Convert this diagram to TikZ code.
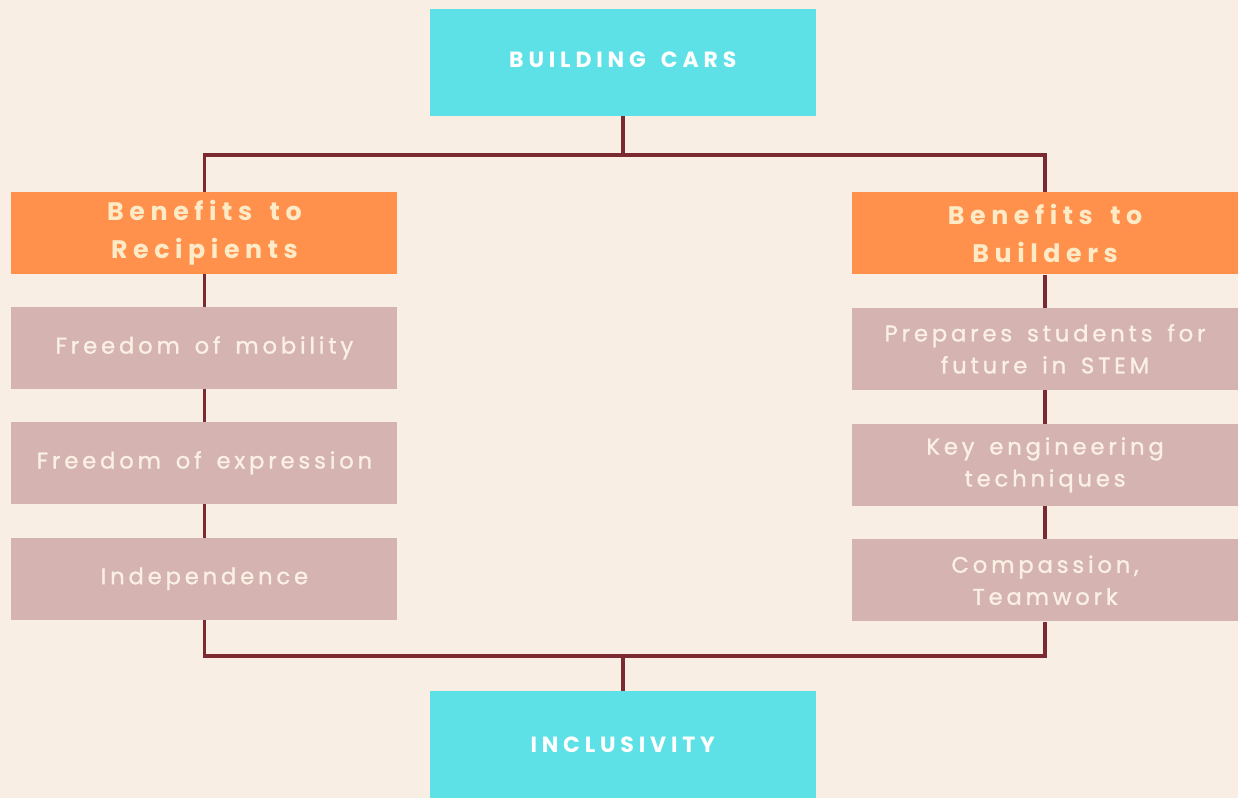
\documentclass[tikz,border=0pt]{standalone}
\usepackage{fontspec}
\newfontfamily\popfont{Poppins}[LetterSpace=17,WordSpace=1.5,FakeBold=1.2]
\newfontfamily\popwide{Poppins}[LetterSpace=22,WordSpace=1.6]
\definecolor{bgcream}{RGB}{248,238,227}
\definecolor{boxcyan}{RGB}{93,225,230}
\definecolor{boxorange}{RGB}{255,145,77}
\definecolor{boxpink}{RGB}{213,179,176}
\definecolor{linkred}{RGB}{122,42,48}
\definecolor{txtcream}{RGB}{250,240,228}
\definecolor{txtyellow}{RGB}{253,235,200}

\begin{document}
\begin{tikzpicture}[x=0.75pt,y=0.75pt,yscale=-1,xscale=1,
  endbox/.style={fill=boxcyan, inner sep=0pt, minimum width=289.5pt, minimum height=80.25pt,
    text=white, font=\popwide\bfseries\fontsize{16.5}{20}\selectfont},
  headbox/.style={fill=boxorange, inner sep=0pt, minimum width=289.5pt, minimum height=61.5pt,
    align=center, text=txtyellow, font=\popwide\bfseries\fontsize{19}{28.5}\selectfont},
  itembox/.style={fill=boxpink, inner sep=0pt, minimum width=289.5pt, minimum height=61.5pt,
    align=center, text=txtcream, font=\popfont\fontsize{17}{24}\selectfont},
  link/.style={draw=linkred, line width=2.7pt}]
	\fill [bgcream] (0,0) rectangle (1238,798);
	\node [endbox] (cars) at (623,62.5) {\raisebox{3.5pt}{BUILDING CARS}};
	\node [headbox] (recip) at (204.5,233) {Benefits to\\Recipients};
	\node [itembox] (mobil) at (204.5,348) {Freedom of mobility};
	\node [itembox] (expr) at (204.5,463) {Freedom of expression};
	\node [itembox] (indep) at (204.5,579) {Independence};
	\node [headbox] (build) at (1045.5,233.5) {Benefits to\\Builders};
	\node [itembox] (stem) at (1045.5,349) {Prepares students for\\future in STEM};
	\node [itembox] (tech) at (1045.5,465) {Key engineering\\techniques};
	\node [itembox] (team) at (1045.5,580.5) {Compassion,\\Teamwork};
	\node [endbox] (incl) at (623,745) {INCLUSIVITY};
	\coordinate (tophub) at (623,155);
	\coordinate (bothub) at (623,656);
	\draw [link] (cars) -- (tophub);
	\draw [link] (recip) |- (tophub) -| (build);
	\draw [link] (recip) -- (mobil);
	\draw [link] (mobil) -- (expr);
	\draw [link] (expr) -- (indep);
	\draw [link] (build) -- (stem);
	\draw [link] (stem) -- (tech);
	\draw [link] (tech) -- (team);
	\draw [link] (indep) |- (bothub) -| (team);
	\draw [link] (bothub) -- (incl);
	\useasboundingbox (0,0) rectangle (1238,798);
\end{tikzpicture}
\end{document}
